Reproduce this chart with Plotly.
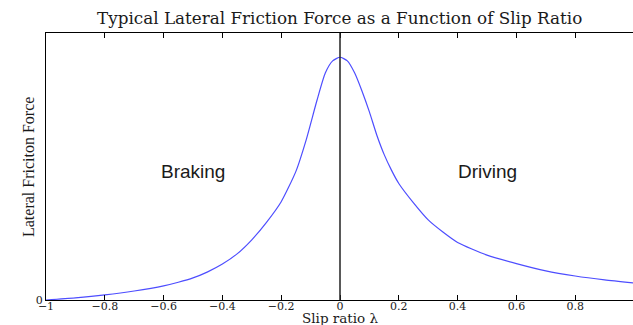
import plotly.graph_objects as go

# Data (friction normalised so peak = 1)
slip_ratio = [-1.0, -0.9, -0.8, -0.7, -0.6, -0.55, -0.5, -0.45, -0.4, -0.35, -0.3,
              -0.25, -0.2, -0.15, -0.115, -0.078, -0.05, -0.025, 0.0,
              0.025, 0.05, 0.075, 0.1, 0.125, 0.15, 0.175, 0.2, 0.25, 0.3, 0.35,
              0.4, 0.5, 0.6, 0.7, 0.8, 0.9, 1.0]
friction = [0.0, 0.009, 0.021, 0.037, 0.058, 0.073, 0.091, 0.116, 0.148, 0.19, 0.248,
            0.32, 0.405, 0.53, 0.66, 0.824, 0.935, 0.985, 1.0,
            0.985, 0.935, 0.86, 0.775, 0.68, 0.60, 0.535, 0.48, 0.40, 0.33, 0.28,
            0.237, 0.185, 0.15, 0.12, 0.099, 0.083, 0.07]

x_tick_vals = [-1, -0.8, -0.6, -0.4, -0.2, 0, 0.2, 0.4, 0.6, 0.8, 1]
x_tick_text = ["\u22121", "\u22120.8", "\u22120.6", "\u22120.4", "\u22120.2", "0",
               "0.2", "0.4", "0.6", "0.8", "1"]
region_labels = ["Braking", "Driving"]
region_x = [-0.5, 0.5]
region_y = [0.53, 0.53]

title_text = "Typical Lateral Friction Force as a Function of Slip Ratio"
x_title = "Slip ratio \u03bb"
y_title = "Lateral Friciton Force"

fig = go.Figure()
fig.add_trace(go.Scatter(
    x=slip_ratio, y=friction, mode="lines",
    line=dict(color="#4d4dff", width=1.2, shape="spline", smoothing=0.6),
    hoverinfo="skip", showlegend=False,
))

fig.add_shape(type="line", xref="x", yref="paper", x0=0, x1=0, y0=0, y1=1,
              line=dict(color="#222222", width=1.5))

for t, xx, yy in zip(region_labels, region_x, region_y):
    fig.add_annotation(x=xx, y=yy, xref="x", yref="y", text=t, showarrow=False,
                       font=dict(family="Liberation Sans, Arial", size=19, color="#1a1a1a"))

serif = "DejaVu Serif"
fig.add_annotation(x=(340 - 46) / 587, y=1.0, xref="paper", yref="paper", yshift=15,
                   text=title_text, showarrow=False, xanchor="center", yanchor="middle",
                   font=dict(family=serif, size=16.8, color="#1a1a1a"))
fig.add_annotation(x=(340 - 46) / 587, y=0, xref="paper", yref="paper", yshift=-18,
                   text=x_title, showarrow=False, xanchor="center", yanchor="middle",
                   font=dict(family=serif, size=13.5, color="#1a1a1a"))
fig.add_annotation(x=0, y=(300 - 167) / 267, xref="paper", yref="paper", xshift=-18,
                   text=y_title, showarrow=False, textangle=-90,
                   xanchor="center", yanchor="middle",
                   font=dict(family="Liberation Serif", size=16, color="#1a1a1a"))

fig.update_layout(
    width=633, height=325,
    margin=dict(l=46, r=0, t=33, b=25),
    plot_bgcolor="white", paper_bgcolor="white",
    xaxis=dict(range=[-1, 0.9966], tickvals=x_tick_vals, ticktext=x_tick_text,
               ticks="inside", ticklen=5, tickcolor="black", tickwidth=1,
               showline=True, linecolor="black", linewidth=1, mirror="ticks",
               showgrid=False, zeroline=False, automargin=False,
               ticklabelstandoff=-4,
               tickfont=dict(family=serif, size=11, color="#1a1a1a")),
    yaxis=dict(range=[0, 1.1], tickvals=[0], ticktext=["0"], ticks="",
               showline=True, linecolor="black", linewidth=1,
               showgrid=False, zeroline=False, automargin=False,
               tickfont=dict(family=serif, size=11, color="#1a1a1a")),
)

fig.write_html("out.html", config={"displayModeBar": False},
               post_script="document.body.style.margin='0';document.body.style.overflow='hidden';")
